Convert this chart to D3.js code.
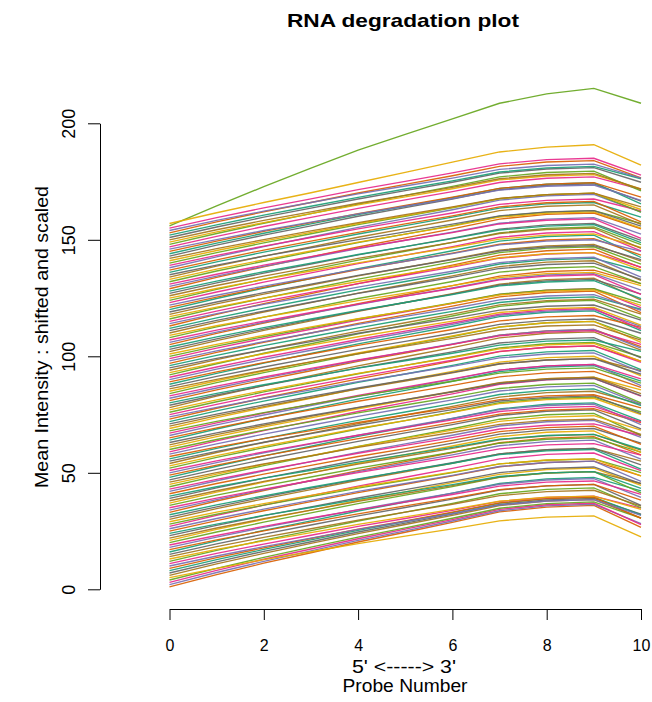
<!DOCTYPE html>
<html>
<head>
<meta charset="utf-8">
<script src="https://cdn.jsdelivr.net/npm/d3@7"></script>
<style>
  html, body { margin: 0; padding: 0; background: #fff; }
  svg { display: block; }
  text { font-family: "Liberation Sans", Arial, Helvetica, sans-serif; fill: #000; }
</style>
</head>
<body>
<div id="chart"></div>
<script>
// Probe positions along the transcript (5' -> 3')
const probes = [0, 1, 2, 3, 4, 5, 6, 7, 8, 9, 10];
const xTicks = [0, 2, 4, 6, 8, 10];
const yTicks = [0, 50, 100, 150, 200];

// Scaled mean intensity per probe position for each array (sample 1 .. 157).
// Each profile starts at 0; the plot shifts sample n up by n.
const profiles = [
  [0,5.3,10.2,14.7,19.3,23.5,27.7,32.2,34.3,35.0,25.6],
  [0,5.2,10.0,14.5,19.0,23.1,27.3,31.7,33.8,34.5,26.2],
  [0,5.1,9.9,14.3,18.7,22.8,26.9,31.3,33.3,34.0,24.8],
  [0,5.0,9.7,14.1,18.4,22.4,26.5,30.8,32.8,33.5,26.5],
  [0,4.0,7.7,11.1,14.6,17.8,20.9,24.4,26.0,26.5,17.5],
  [0,4.9,9.4,13.7,17.9,21.8,25.7,29.9,31.9,32.5,24.7],
  [0,4.8,9.3,13.4,17.6,21.4,25.3,29.4,31.4,32.0,25.3],
  [0,4.7,9.1,13.2,17.3,21.1,24.9,29.0,30.9,31.5,23.9],
  [0,4.6,8.8,12.8,16.8,20.4,24.1,28.1,29.9,30.5,21.4],
  [0,4.3,8.3,12.0,15.7,19.1,22.5,26.2,27.9,28.5,21.7],
  [0,4.4,8.4,12.2,16.0,19.4,22.9,26.7,28.4,29.0,23.8],
  [0,4.7,9.1,13.2,17.3,21.1,24.9,29.0,30.9,31.5,23.0],
  [0,4.1,7.8,11.3,14.9,18.1,21.3,24.8,26.5,27.0,21.3],
  [0,4.3,8.3,12.0,15.7,19.1,22.5,26.2,27.9,28.5,21.7],
  [0,4.5,8.7,12.6,16.5,20.1,23.7,27.6,29.4,30.0,21.0],
  [0,4.8,9.3,13.4,17.6,21.4,25.3,29.4,31.4,32.0,26.2],
  [0,4.2,8.1,11.8,15.4,18.8,22.1,25.8,27.4,28.0,21.3],
  [0,4.4,8.6,12.4,16.2,19.8,23.3,27.1,28.9,29.5,21.5],
  [0,4.1,8.0,11.6,15.1,18.4,21.7,25.3,27.0,27.5,21.7],
  [0,4.6,8.8,12.8,16.8,20.4,24.1,28.1,29.9,30.5,21.4],
  [0,4.7,9.0,13.0,17.1,20.8,24.8,28.3,30.4,31.0,23.6],
  [0,4.3,8.3,12.0,15.7,19.1,22.5,26.2,27.9,28.5,23.4],
  [0,4.4,8.6,12.4,16.2,19.8,23.3,27.1,28.9,29.5,22.4],
  [0,4.0,7.7,11.1,14.6,17.8,20.9,24.4,26.0,26.5,19.3],
  [0,4.5,8.7,12.6,16.5,20.1,23.7,27.6,29.4,30.0,23.7],
  [0,4.4,8.4,12.2,16.0,19.4,22.9,26.7,28.4,29.0,20.3],
  [0,4.7,9.1,13.2,17.3,21.1,24.9,29.0,30.9,31.5,23.9],
  [0,4.2,8.1,11.8,15.4,18.8,22.1,25.8,27.4,28.0,22.1],
  [0,4.1,7.8,11.3,14.9,18.1,21.3,24.8,26.5,27.0,19.7],
  [0,4.6,8.8,12.8,16.8,20.4,24.1,28.1,29.9,30.5,25.0],
  [0,4.4,8.6,12.4,16.2,19.8,23.3,27.1,28.9,29.5,22.4],
  [0,4.2,8.1,11.8,15.4,18.8,22.1,25.8,27.4,28.0,19.6],
  [0,4.9,9.4,13.7,17.9,21.8,25.7,29.9,31.9,32.5,24.7],
  [0,4.5,8.7,12.6,16.5,20.1,23.7,27.6,29.4,30.0,21.9],
  [0,4.1,8.0,11.6,15.1,18.4,21.7,25.3,27.0,27.5,22.6],
  [0,4.4,8.4,12.2,16.0,19.4,22.9,26.7,28.4,29.0,22.9],
  [0,4.7,9.0,13.0,17.1,20.8,24.5,28.5,30.4,31.0,21.7],
  [0,4.3,8.3,12.0,15.7,19.1,22.5,26.2,27.9,28.5,21.7],
  [0,4.5,8.7,12.6,16.5,20.1,23.7,27.6,29.4,30.0,23.7],
  [0,4.0,7.7,11.1,14.6,17.8,20.9,24.4,26.0,26.5,20.1],
  [0,4.4,8.4,12.2,16.0,19.4,22.9,26.7,28.4,29.0,21.2],
  [0,4.6,8.8,12.8,16.8,20.4,24.1,28.1,29.9,30.5,23.2],
  [0,4.2,8.1,11.8,15.4,18.8,22.1,25.8,27.4,28.0,23.0],
  [0,4.7,9.1,13.2,17.3,21.1,24.9,29.0,30.9,31.5,22.1],
  [0,4.4,8.6,12.4,16.2,19.8,23.3,27.1,28.9,29.5,23.3],
  [0,4.1,7.8,11.3,14.9,18.1,21.3,24.8,26.5,27.0,20.5],
  [0,4.5,8.7,12.6,16.5,20.1,23.7,27.6,29.4,30.0,21.9],
  [0,4.8,9.3,13.4,17.6,21.4,25.3,29.4,31.4,32.0,24.3],
  [0,4.3,8.3,12.0,15.7,19.1,22.5,26.2,27.9,28.5,22.5],
  [0,4.4,8.6,12.4,16.2,19.8,23.3,27.1,28.9,29.5,20.7],
  [0,4.1,8.0,11.6,15.1,18.4,21.7,25.3,27.0,27.5,20.9],
  [0,4.6,8.8,12.8,16.8,20.4,24.1,28.1,29.9,30.5,24.1],
  [0,4.4,8.4,12.2,16.0,19.4,22.9,26.7,28.4,29.0,22.0],
  [0,4.7,9.0,13.0,17.1,20.8,24.5,28.5,30.4,31.0,25.4],
  [0,4.2,8.1,11.8,15.4,18.8,22.1,25.8,27.4,28.0,20.4],
  [0,4.5,8.7,12.6,16.5,20.1,23.7,27.6,29.4,30.0,22.8],
  [0,4.0,7.7,11.1,14.6,17.8,20.9,24.4,26.0,26.5,20.9],
  [0,4.4,8.6,12.4,16.2,19.8,23.3,27.1,28.9,29.5,21.5],
  [0,4.7,9.1,13.2,17.3,21.1,24.9,29.0,30.9,31.5,23.9],
  [0,4.3,8.3,12.0,15.7,19.1,22.5,26.2,27.9,28.5,20.0],
  [0,4.5,8.7,12.6,16.5,20.1,23.7,27.6,29.4,30.0,24.6],
  [0,4.4,8.4,12.2,16.0,19.4,22.9,26.7,28.4,29.0,22.0],
  [0,4.1,8.0,11.6,15.1,18.4,21.7,25.3,27.0,27.5,20.1],
  [0,4.8,9.3,13.4,17.6,21.4,25.3,29.4,31.4,32.0,25.3],
  [0,4.3,8.3,12.0,15.7,19.1,22.5,26.2,27.9,28.5,21.7],
  [0,4.6,8.8,12.8,16.8,20.4,24.1,28.1,29.9,30.5,21.4],
  [0,4.4,8.6,12.4,16.2,19.8,23.3,27.1,28.9,29.5,23.3],
  [0,4.1,7.8,11.3,14.9,18.1,21.3,24.8,26.5,27.0,20.5],
  [0,4.7,9.0,13.0,17.1,20.8,24.5,28.5,30.4,31.0,22.6],
  [0,4.4,8.4,12.2,16.0,19.4,22.9,26.7,28.4,29.0,23.8],
  [0,4.2,8.1,11.8,15.4,18.8,22.1,25.8,27.4,28.0,21.3],
  [0,4.6,8.8,12.8,16.8,20.4,24.1,28.1,29.9,30.5,22.3],
  [0,4.7,9.1,13.2,17.3,21.1,24.9,29.0,30.9,31.5,24.9],
  [0,4.1,8.0,11.6,15.1,18.4,21.7,25.3,27.0,27.5,19.3],
  [0,4.4,8.6,12.4,16.2,19.8,23.3,27.1,28.9,29.5,22.4],
  [0,4.5,8.7,12.6,16.5,20.1,23.7,27.6,29.4,30.0,23.7],
  [0,4.3,8.3,12.0,15.7,19.1,22.5,26.2,27.9,28.5,20.8],
  [0,4.9,9.4,13.7,17.9,21.8,25.7,29.9,31.9,32.5,24.7],
  [0,4.4,8.4,12.2,16.0,19.4,22.9,26.7,28.4,29.0,20.3],
  [0,4.1,7.8,11.3,14.9,18.1,21.3,24.8,26.5,27.0,22.1],
  [0,4.6,8.8,12.8,16.8,20.4,24.1,28.1,29.9,30.5,23.2],
  [0,4.4,8.6,12.4,16.2,19.8,23.3,27.1,28.9,29.5,21.5],
  [0,4.2,8.1,11.8,15.4,18.8,22.1,25.8,27.4,28.0,22.1],
  [0,4.7,9.0,13.0,17.1,20.8,24.5,28.5,30.4,31.0,23.6],
  [0,4.5,8.7,12.6,16.5,20.1,23.7,27.6,29.4,30.0,21.0],
  [0,4.1,8.0,11.6,15.1,18.4,21.7,25.3,27.0,27.5,20.9],
  [0,4.4,8.4,12.2,16.0,19.4,22.9,26.7,28.4,29.0,22.9],
  [0,4.7,9.1,13.2,17.3,21.1,24.9,29.0,30.9,31.5,23.0],
  [0,4.3,8.3,12.0,15.7,19.1,22.5,26.2,27.9,28.5,23.4],
  [0,4.5,8.7,12.6,16.5,20.1,23.7,27.6,29.4,30.0,22.8],
  [0,4.4,8.6,12.4,16.2,19.8,23.3,27.1,28.9,29.5,20.7],
  [0,4.8,9.3,13.4,17.6,21.4,25.3,29.4,31.4,32.0,24.3],
  [0,4.2,8.1,11.8,15.4,18.8,22.1,25.8,27.4,28.0,20.4],
  [0,4.6,8.8,12.8,16.8,20.4,24.1,28.1,29.9,30.5,24.1],
  [0,4.1,7.8,11.3,14.9,18.1,21.3,24.8,26.5,27.0,20.5],
  [0,4.4,8.6,12.4,16.2,19.8,23.3,27.1,28.9,29.5,24.2],
  [0,4.7,9.0,13.0,17.1,20.8,24.5,28.5,30.4,31.0,21.7],
  [0,4.3,8.3,12.0,15.7,19.1,22.5,26.2,27.9,28.5,21.7],
  [0,4.5,8.7,12.6,16.5,20.1,23.7,27.6,29.4,30.0,21.9],
  [0,4.4,8.4,12.2,16.0,19.4,22.9,26.7,28.4,29.0,22.9],
  [0,4.1,8.0,11.6,15.1,18.4,21.7,25.3,27.0,27.5,20.9],
  [0,4.7,9.1,13.2,17.3,21.1,24.9,29.0,30.9,31.5,22.1],
  [0,4.5,8.7,12.6,16.5,20.1,23.7,27.6,29.4,30.0,23.7],
  [0,4.3,8.3,12.0,15.7,19.1,22.5,26.2,27.9,28.5,20.8],
  [0,4.8,9.3,13.4,17.6,21.4,25.3,29.4,31.4,32.0,26.2],
  [0,4.4,8.6,12.4,16.2,19.8,23.3,27.1,28.9,29.5,22.4],
  [0,4.2,8.1,11.8,15.4,18.8,22.1,25.8,27.4,28.0,19.6],
  [0,4.6,8.8,12.8,16.8,20.4,24.1,28.1,29.9,30.5,23.2],
  [0,4.1,7.8,11.3,14.9,18.1,21.3,24.8,26.5,27.0,21.3],
  [0,4.7,9.0,13.0,17.1,20.8,24.5,28.5,30.4,31.0,22.6],
  [0,4.4,8.4,12.2,16.0,19.4,22.9,26.7,28.4,29.0,22.0],
  [0,4.5,8.7,12.6,16.5,20.1,23.7,27.6,29.4,30.0,24.6],
  [0,5.0,9.6,13.9,18.2,22.1,26.1,30.4,32.3,33.0,25.1],
  [0,4.3,8.3,12.0,15.7,19.1,22.5,26.2,27.9,28.5,20.0],
  [0,4.4,8.6,12.4,16.2,19.8,23.3,27.1,28.9,29.5,23.3],
  [0,4.7,9.0,13.0,17.1,20.8,24.5,28.5,30.4,31.0,23.6],
  [0,4.1,8.0,11.6,15.1,18.4,21.7,25.3,27.0,27.5,20.1],
  [0,4.5,8.7,12.6,16.5,20.1,23.7,27.6,29.4,30.0,22.8],
  [0,4.3,8.3,12.0,15.7,19.1,22.5,26.2,27.9,28.5,22.5],
  [0,4.8,9.3,13.4,17.6,21.4,25.3,29.4,31.4,32.0,22.4],
  [0,4.4,8.6,12.4,16.2,19.8,23.3,27.1,28.9,29.5,22.4],
  [0,4.2,8.1,11.8,15.4,18.8,22.1,25.8,27.4,28.0,23.0],
  [0,4.6,8.8,12.8,16.8,20.4,24.1,28.1,29.9,30.5,22.3],
  [0,4.7,9.1,13.2,17.3,21.1,24.9,29.0,30.9,31.5,23.9],
  [0,4.1,8.0,11.6,15.1,18.4,21.7,25.3,27.0,27.5,21.7],
  [0,4.4,8.4,12.2,16.0,19.4,22.9,26.7,28.4,29.0,20.3],
  [0,4.5,8.7,12.6,16.5,20.1,23.7,27.6,29.4,30.0,22.8],
  [0,4.3,8.3,12.0,15.7,19.1,22.5,26.2,27.9,28.5,20.8],
  [0,4.9,9.4,13.7,17.9,21.8,25.7,29.9,31.9,32.5,25.7],
  [0,4.4,8.6,12.4,16.2,19.8,23.3,27.1,28.9,29.5,22.4],
  [0,4.2,8.1,11.8,15.4,18.8,22.1,25.8,27.4,28.0,19.6],
  [0,4.6,8.8,12.8,16.8,20.4,24.1,28.1,29.9,30.5,25.0],
  [0,4.4,8.4,12.2,16.0,19.4,22.9,26.7,28.4,29.0,22.0],
  [0,4.7,9.0,13.0,17.1,20.8,24.5,28.5,30.4,31.0,22.6],
  [0,4.1,8.0,11.6,15.1,18.4,21.7,25.3,27.0,27.5,20.9],
  [0,4.5,8.7,12.6,16.5,20.1,23.7,27.6,29.4,30.0,23.7],
  [0,4.4,8.6,12.4,16.2,19.8,23.3,27.1,28.9,29.5,20.7],
  [0,4.7,9.1,13.2,17.3,21.1,24.9,29.0,30.9,31.5,23.9],
  [0,4.3,8.3,12.0,15.7,19.1,22.5,26.2,27.9,28.5,23.4],
  [0,4.5,8.7,12.6,16.5,20.1,23.7,27.6,29.4,30.0,21.9],
  [0,4.4,8.4,12.2,16.0,19.4,22.9,26.7,28.4,29.0,22.0],
  [0,4.2,8.1,11.8,15.4,18.8,22.1,25.8,27.4,28.0,22.1],
  [0,4.7,9.0,13.0,17.1,20.8,24.5,28.5,30.4,31.0,23.6],
  [0,4.6,8.8,12.8,16.8,20.4,24.1,28.1,29.9,30.5,21.4],
  [0,4.4,8.6,12.4,16.2,19.8,23.3,27.1,28.9,29.5,23.3],
  [0,4.1,8.0,11.6,15.1,18.4,21.7,25.3,27.0,27.5,20.9],
  [0,4.5,8.7,12.6,16.5,20.1,23.7,27.6,29.4,30.0,24.6],
  [0,4.7,9.1,13.2,17.3,21.1,24.9,29.0,30.9,31.5,23.0],
  [0,4.4,8.4,12.2,16.0,19.4,22.9,26.7,28.4,29.0,22.9],
  [0,4.3,8.3,12.0,15.7,19.1,22.5,26.2,27.9,28.5,21.7],
  [0,4.5,8.7,12.6,16.5,20.1,23.7,27.6,29.4,30.0,23.7],
  [0,4.4,8.6,12.4,16.2,19.8,23.3,27.1,28.9,29.5,24.2],
  [0,4.7,9.0,13.0,17.1,20.8,24.5,28.5,30.4,31.0,23.6],
  [0,4.3,8.3,12.0,15.7,19.1,22.5,26.2,27.9,28.5,22.5],
  [0,4.5,8.7,12.6,16.5,20.1,23.7,27.6,29.4,30.0,22.8],
  [0,8.6,16.8,24.8,32.5,39.2,45.9,52.6,56.6,59.0,52.6],
  [0,4.6,9.0,13.2,17.6,21.9,26.3,30.7,32.8,33.8,25.0]
];

const W = 652, H = 702;
const svg = d3.select("#chart").append("svg")
  .attr("width", W).attr("height", H)
  .style("background", "#fff");

const x = d3.scaleLinear().domain([0, 10]).range([169.5, 641]);
const y = d3.scaleLinear().domain([0, 200]).range([589.3, 123.3]);

// Each sample is shifted by its index so the curves stack
const series = profiles.map((p, i) => ({ id: i + 1, values: p.map(v => v + i + 1) }));

const line = d3.line()
  .x((d, k) => x(probes[k]))
  .y(d => y(d));

svg.append("g")
  .attr("fill", "none")
  .attr("stroke-width", 1.35)
  .attr("stroke-opacity", 0.92)
  .selectAll("path")
  .data(series)
  .join("path")
  .attr("stroke", d => d3.schemeDark2[d.id % 8])
  .attr("d", d => line(d.values));

// x axis
const xAxis = svg.append("g")
  .attr("transform", "translate(0,609)")
  .call(d3.axisBottom(x).tickValues(xTicks).tickSize(11).tickSizeOuter(0).tickFormat(d3.format("d")));
xAxis.select(".domain").attr("stroke", "#000");
xAxis.selectAll(".tick line").attr("stroke", "#000");
xAxis.selectAll(".tick text")
  .attr("y", 42).attr("dy", 0)
  .style("font-size", "16px");

// y axis
const yAxis = svg.append("g")
  .attr("transform", "translate(100,0)")
  .call(d3.axisLeft(y).tickValues(yTicks).tickSize(12).tickSizeOuter(0).tickFormat(d3.format("d")));
yAxis.select(".domain").attr("stroke", "#000");
yAxis.selectAll(".tick line").attr("stroke", "#000");
yAxis.selectAll(".tick text")
  .attr("transform", "rotate(-90)")
  .attr("x", 0).attr("y", -25).attr("dy", 0)
  .attr("text-anchor", "middle")
  .style("font-size", "18px");

// titles
svg.append("text")
  .attr("x", 403).attr("y", 27)
  .attr("text-anchor", "middle")
  .attr("textLength", 232).attr("lengthAdjust", "spacingAndGlyphs")
  .style("font-size", "19px").style("font-weight", "bold")
  .text("RNA degradation plot");

svg.append("text")
  .attr("x", 404).attr("y", 673)
  .attr("text-anchor", "middle")
  .attr("textLength", 104).attr("lengthAdjust", "spacingAndGlyphs")
  .style("font-size", "18px")
  .text("5' <-----> 3'");

svg.append("text")
  .attr("x", 405).attr("y", 692)
  .attr("text-anchor", "middle")
  .attr("textLength", 125).attr("lengthAdjust", "spacingAndGlyphs")
  .style("font-size", "18px")
  .text("Probe Number");

svg.append("text")
  .attr("transform", "translate(47.5,337) rotate(-90)")
  .attr("text-anchor", "middle")
  .attr("textLength", 302).attr("lengthAdjust", "spacingAndGlyphs")
  .style("font-size", "18px")
  .text("Mean Intensity : shifted and scaled");
</script>
</body>
</html>
